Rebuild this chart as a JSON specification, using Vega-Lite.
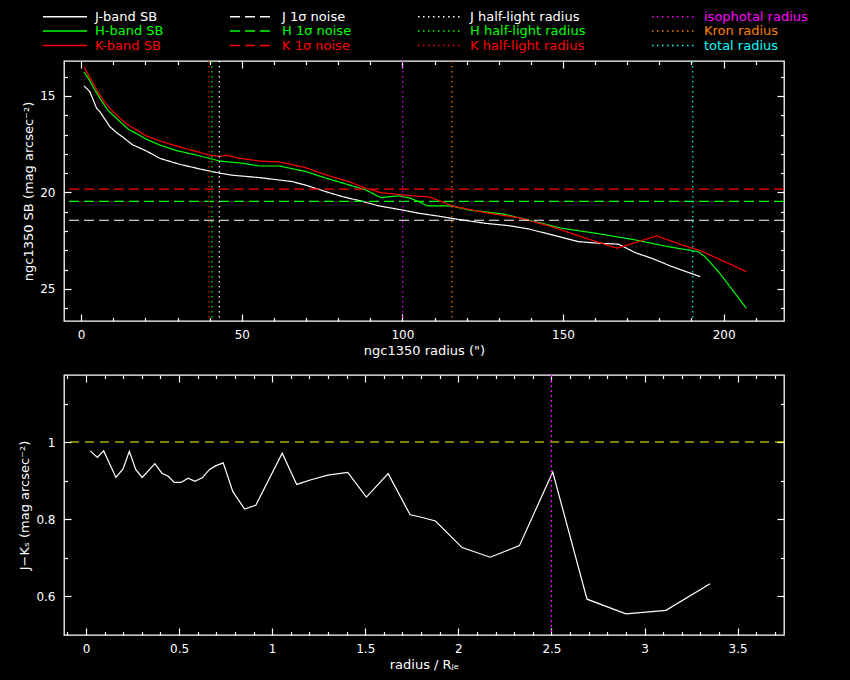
{
  "$schema": "https://vega.github.io/schema/vega-lite/v6.json",
  "background": "black",
  "padding": {"left": 18, "top": 10, "right": 50, "bottom": 8},
  "spacing": 54,
  "bounds": "flush",
  "config": {
    "font": "DejaVu Sans",
    "view": {"stroke": "white", "strokeWidth": 1.3},
    "axis": {
      "domain": false, "grid": false, "ticks": true,
      "labelColor": "white", "titleColor": "white", "tickColor": "white",
      "labelFontSize": 12, "titleFontSize": 13, "titleFontWeight": "normal",
      "labelOverlap": false, "labelFlush": false, "labelBound": false,
      "tickWidth": 1.2, "tickSize": -7
    }
  },
  "vconcat": [
    {
      "width": 720, "height": 260,
      "layer": [
        {
          "data": {"values": [
            {"series": "J-band SB", "r": 0.9, "sb": 14.48}, {"series": "J-band SB", "r": 2.7, "sb": 14.78}, {"series": "J-band SB", "r": 4.8, "sb": 15.64}, {"series": "J-band SB", "r": 5.8, "sb": 15.81}, {"series": "J-band SB", "r": 7.9, "sb": 16.33}, {"series": "J-band SB", "r": 8.9, "sb": 16.59}, {"series": "J-band SB", "r": 11.0, "sb": 16.9}, {"series": "J-band SB", "r": 13.0, "sb": 17.14}, {"series": "J-band SB", "r": 16.1, "sb": 17.54}, {"series": "J-band SB", "r": 20.3, "sb": 17.85}, {"series": "J-band SB", "r": 24.4, "sb": 18.23}, {"series": "J-band SB", "r": 30.6, "sb": 18.54}, {"series": "J-band SB", "r": 36.8, "sb": 18.78}, {"series": "J-band SB", "r": 43.1, "sb": 19.0}, {"series": "J-band SB", "r": 47.2, "sb": 19.11}, {"series": "J-band SB", "r": 55.5, "sb": 19.23}, {"series": "J-band SB", "r": 65.8, "sb": 19.44}, {"series": "J-band SB", "r": 70.0, "sb": 19.63}, {"series": "J-band SB", "r": 76.2, "sb": 19.96}, {"series": "J-band SB", "r": 81.4, "sb": 20.22}, {"series": "J-band SB", "r": 86.5, "sb": 20.42}, {"series": "J-band SB", "r": 92.8, "sb": 20.7}, {"series": "J-band SB", "r": 100.0, "sb": 20.91}, {"series": "J-band SB", "r": 105.2, "sb": 21.08}, {"series": "J-band SB", "r": 111.4, "sb": 21.23}, {"series": "J-band SB", "r": 115.2, "sb": 21.34}, {"series": "J-band SB", "r": 125.9, "sb": 21.6}, {"series": "J-band SB", "r": 133.1, "sb": 21.72}, {"series": "J-band SB", "r": 139.3, "sb": 21.89}, {"series": "J-band SB", "r": 146.6, "sb": 22.2}, {"series": "J-band SB", "r": 154.9, "sb": 22.55}, {"series": "J-band SB", "r": 161.1, "sb": 22.63}, {"series": "J-band SB", "r": 167.3, "sb": 22.68}, {"series": "J-band SB", "r": 172.5, "sb": 23.12}, {"series": "J-band SB", "r": 177.6, "sb": 23.41}, {"series": "J-band SB", "r": 183.9, "sb": 23.84}, {"series": "J-band SB", "r": 192.7, "sb": 24.36},
            {"series": "H-band SB", "r": 0.9, "sb": 13.77}, {"series": "H-band SB", "r": 2.3, "sb": 14.1}, {"series": "H-band SB", "r": 3.7, "sb": 14.52}, {"series": "H-band SB", "r": 5.8, "sb": 15.12}, {"series": "H-band SB", "r": 8.4, "sb": 15.76}, {"series": "H-band SB", "r": 11.5, "sb": 16.24}, {"series": "H-band SB", "r": 14.6, "sb": 16.71}, {"series": "H-band SB", "r": 20.3, "sb": 17.24}, {"series": "H-band SB", "r": 24.4, "sb": 17.54}, {"series": "H-band SB", "r": 29.6, "sb": 17.83}, {"series": "H-band SB", "r": 35.8, "sb": 18.06}, {"series": "H-band SB", "r": 40.5, "sb": 18.26}, {"series": "H-band SB", "r": 43.1, "sb": 18.37}, {"series": "H-band SB", "r": 50.3, "sb": 18.49}, {"series": "H-band SB", "r": 55.5, "sb": 18.63}, {"series": "H-band SB", "r": 61.7, "sb": 18.63}, {"series": "H-band SB", "r": 70.0, "sb": 18.92}, {"series": "H-band SB", "r": 76.2, "sb": 19.26}, {"series": "H-band SB", "r": 83.4, "sb": 19.61}, {"series": "H-band SB", "r": 88.6, "sb": 19.87}, {"series": "H-band SB", "r": 93.3, "sb": 20.27}, {"series": "H-band SB", "r": 95.9, "sb": 20.22}, {"series": "H-band SB", "r": 99.0, "sb": 20.18}, {"series": "H-band SB", "r": 102.1, "sb": 20.28}, {"series": "H-band SB", "r": 105.2, "sb": 20.48}, {"series": "H-band SB", "r": 107.8, "sb": 20.7}, {"series": "H-band SB", "r": 115.5, "sb": 20.7}, {"series": "H-band SB", "r": 120.7, "sb": 20.91}, {"series": "H-band SB", "r": 131.1, "sb": 21.11}, {"series": "H-band SB", "r": 138.3, "sb": 21.39}, {"series": "H-band SB", "r": 149.7, "sb": 21.86}, {"series": "H-band SB", "r": 160.1, "sb": 22.11}, {"series": "H-band SB", "r": 172.5, "sb": 22.46}, {"series": "H-band SB", "r": 182.8, "sb": 22.81}, {"series": "H-band SB", "r": 192.1, "sb": 23.07}, {"series": "H-band SB", "r": 194.2, "sb": 23.33}, {"series": "H-band SB", "r": 198.4, "sb": 24.1}, {"series": "H-band SB", "r": 207.1, "sb": 26.0},
            {"series": "K-band SB", "r": 0.9, "sb": 13.5}, {"series": "K-band SB", "r": 3.7, "sb": 14.34}, {"series": "K-band SB", "r": 5.3, "sb": 14.81}, {"series": "K-band SB", "r": 6.8, "sb": 15.21}, {"series": "K-band SB", "r": 8.9, "sb": 15.64}, {"series": "K-band SB", "r": 11.5, "sb": 16.07}, {"series": "K-band SB", "r": 14.1, "sb": 16.45}, {"series": "K-band SB", "r": 20.3, "sb": 17.07}, {"series": "K-band SB", "r": 24.4, "sb": 17.33}, {"series": "K-band SB", "r": 29.6, "sb": 17.59}, {"series": "K-band SB", "r": 34.8, "sb": 17.83}, {"series": "K-band SB", "r": 39.4, "sb": 18.04}, {"series": "K-band SB", "r": 43.1, "sb": 18.14}, {"series": "K-band SB", "r": 45.2, "sb": 18.07}, {"series": "K-band SB", "r": 49.3, "sb": 18.23}, {"series": "K-band SB", "r": 55.5, "sb": 18.37}, {"series": "K-band SB", "r": 61.7, "sb": 18.42}, {"series": "K-band SB", "r": 70.0, "sb": 18.72}, {"series": "K-band SB", "r": 76.2, "sb": 19.09}, {"series": "K-band SB", "r": 83.4, "sb": 19.44}, {"series": "K-band SB", "r": 88.6, "sb": 19.78}, {"series": "K-band SB", "r": 93.3, "sb": 20.01}, {"series": "K-band SB", "r": 102.1, "sb": 20.16}, {"series": "K-band SB", "r": 108.3, "sb": 20.23}, {"series": "K-band SB", "r": 111.4, "sb": 20.42}, {"series": "K-band SB", "r": 115.5, "sb": 20.7}, {"series": "K-band SB", "r": 125.9, "sb": 21.05}, {"series": "K-band SB", "r": 136.2, "sb": 21.31}, {"series": "K-band SB", "r": 146.6, "sb": 21.78}, {"series": "K-band SB", "r": 157.0, "sb": 22.37}, {"series": "K-band SB", "r": 166.8, "sb": 22.89}, {"series": "K-band SB", "r": 179.2, "sb": 22.25}, {"series": "K-band SB", "r": 187.0, "sb": 22.72}, {"series": "K-band SB", "r": 192.7, "sb": 23.01}, {"series": "K-band SB", "r": 207.1, "sb": 24.1}
          ]},
          "mark": {"type": "line", "strokeWidth": 1.2},
          "encoding": {
            "x": {"field": "r", "type": "quantitative",
              "scale": {"domain": [-5.35, 218.8], "nice": false, "zero": false},
              "axis": {"orient": "bottom", "title": "ngc1350 radius (\")",
                "values": [0,10,20,30,40,50,60,70,80,90,100,110,120,130,140,150,160,170,180,190,200,210],
                "format": "d", "labelExpr": "datum.value % 50 === 0 ? datum.label : ''",
                "tickDash": {"condition": {"test": "datum.value % 50 === 0", "value": [8, 0]}, "value": [3.5, 20]},
                "labelPadding": 15, "titlePadding": 4}},
            "y": {"field": "sb", "type": "quantitative",
              "scale": {"domain": [13.19, 26.66], "reverse": true, "nice": false, "zero": false},
              "axis": {"orient": "left", "title": "ngc1350 SB (mag arcsec⁻²)",
                "values": [14,15,16,17,18,19,20,21,22,23,24,25,26],
                "format": "d", "labelExpr": "datum.value % 5 === 0 ? datum.label : ''",
                "tickDash": {"condition": {"test": "datum.value % 5 === 0", "value": [8, 0]}, "value": [3.5, 20]},
                "labelPadding": 16, "titlePadding": 4}},
            "color": {"field": "series", "type": "nominal",
              "scale": {"domain": ["J-band SB","H-band SB","K-band SB","J 1σ noise","H 1σ noise","K 1σ noise","J half-light radius","H half-light radius","K half-light radius","isophotal radius","Kron radius","total radius"],
                "range": ["#ffffff","#00ff00","#ff0000","#ffffff","#00ff00","#ff0000","#ffffff","#00ff00","#ff0000","#ff00ff","#ff8000","#00ffff"]},
              "legend": {"orient": "none", "legendX": -22, "legendY": -51, "columns": 4, "title": null,
                "symbolType": "stroke", "symbolSize": 1936, "symbolStrokeWidth": 1.5,
                "labelFontSize": 13, "labelColor": "white", "labelOffset": 7,
                "columnPadding": 65, "rowPadding": 0.5, "clipHeight": 13, "gridAlign": "each", "padding": 0,
                "encode": {"labels": {"update": {"fill": {"scale": "color", "field": "value"}}}}}},
            "strokeDash": {"field": "series", "type": "nominal",
              "scale": {"domain": ["J-band SB","H-band SB","K-band SB","J 1σ noise","H 1σ noise","K 1σ noise","J half-light radius","H half-light radius","K half-light radius","isophotal radius","Kron radius","total radius"],
                "range": [[1,0],[1,0],[1,0],[10,5],[10,5],[10,5],[1.5,3.5],[1.5,3.5],[1.5,3.5],[1.5,3.5],[1.5,3.5],[1.5,3.5]]},
              "legend": {"orient": "none", "legendX": -22, "legendY": -51, "columns": 4, "title": null,
                "symbolType": "stroke", "symbolSize": 1936, "symbolStrokeWidth": 1.5,
                "labelFontSize": 13, "labelColor": "white", "labelOffset": 7,
                "columnPadding": 65, "rowPadding": 0.5, "clipHeight": 13, "gridAlign": "each", "padding": 0,
                "encode": {"labels": {"update": {"fill": {"scale": "color", "field": "value"}}}}}}
          }
        },
        {
          "data": {"values": [
            {"series": "J 1σ noise", "sb": 21.44}, {"series": "H 1σ noise", "sb": 20.46}, {"series": "K 1σ noise", "sb": 19.83}
          ]},
          "mark": {"type": "rule", "strokeWidth": 1.2},
          "encoding": {
            "y": {"field": "sb", "type": "quantitative",
              "scale": {"domain": [13.19, 26.66], "reverse": true, "nice": false, "zero": false},
              "axis": {"orient": "right", "title": null, "labels": false,
                "values": [14,15,16,17,18,19,20,21,22,23,24,25,26],
                "tickDash": {"condition": {"test": "datum.value % 5 === 0", "value": [8, 0]}, "value": [3.5, 20]}}},
            "color": {"field": "series", "type": "nominal",
              "scale": {"domain": ["J-band SB","H-band SB","K-band SB","J 1σ noise","H 1σ noise","K 1σ noise","J half-light radius","H half-light radius","K half-light radius","isophotal radius","Kron radius","total radius"],
                "range": ["#ffffff","#00ff00","#ff0000","#ffffff","#00ff00","#ff0000","#ffffff","#00ff00","#ff0000","#ff00ff","#ff8000","#00ffff"]}},
            "strokeDash": {"field": "series", "type": "nominal",
              "scale": {"domain": ["J-band SB","H-band SB","K-band SB","J 1σ noise","H 1σ noise","K 1σ noise","J half-light radius","H half-light radius","K half-light radius","isophotal radius","Kron radius","total radius"],
                "range": [[1,0],[1,0],[1,0],[10,5],[10,5],[10,5],[1.5,3.5],[1.5,3.5],[1.5,3.5],[1.5,3.5],[1.5,3.5],[1.5,3.5]]}}
          }
        },
        {
          "data": {"values": [
            {"series": "J half-light radius", "r": 43.0}, {"series": "H half-light radius", "r": 40.7}, {"series": "K half-light radius", "r": 39.8},
            {"series": "isophotal radius", "r": 100.1}, {"series": "Kron radius", "r": 115.4}, {"series": "total radius", "r": 190.4}
          ]},
          "mark": {"type": "rule", "strokeWidth": 1.2},
          "encoding": {
            "x": {"field": "r", "type": "quantitative",
              "scale": {"domain": [-5.35, 218.8], "nice": false, "zero": false},
              "axis": {"orient": "top", "title": null, "labels": false,
                "values": [0,10,20,30,40,50,60,70,80,90,100,110,120,130,140,150,160,170,180,190,200,210],
                "tickDash": {"condition": {"test": "datum.value % 50 === 0", "value": [8, 0]}, "value": [3.5, 20]}}},
            "color": {"field": "series", "type": "nominal",
              "scale": {"domain": ["J-band SB","H-band SB","K-band SB","J 1σ noise","H 1σ noise","K 1σ noise","J half-light radius","H half-light radius","K half-light radius","isophotal radius","Kron radius","total radius"],
                "range": ["#ffffff","#00ff00","#ff0000","#ffffff","#00ff00","#ff0000","#ffffff","#00ff00","#ff0000","#ff00ff","#ff8000","#00ffff"]}},
            "strokeDash": {"field": "series", "type": "nominal",
              "scale": {"domain": ["J-band SB","H-band SB","K-band SB","J 1σ noise","H 1σ noise","K 1σ noise","J half-light radius","H half-light radius","K half-light radius","isophotal radius","Kron radius","total radius"],
                "range": [[1,0],[1,0],[1,0],[10,5],[10,5],[10,5],[1.5,3.5],[1.5,3.5],[1.5,3.5],[1.5,3.5],[1.5,3.5],[1.5,3.5]]}}
          }
        }
      ],
      "resolve": {"axis": {"x": "independent", "y": "independent"}}
    },
    {
      "width": 720, "height": 260,
      "layer": [
        {
          "data": {"values": [
            {"rr": 0.023, "jk": 0.977}, {"rr": 0.061, "jk": 0.96}, {"rr": 0.095, "jk": 0.977}, {"rr": 0.161, "jk": 0.908}, {"rr": 0.199, "jk": 0.93}, {"rr": 0.233, "jk": 0.976}, {"rr": 0.267, "jk": 0.929}, {"rr": 0.302, "jk": 0.908}, {"rr": 0.37, "jk": 0.944}, {"rr": 0.408, "jk": 0.919}, {"rr": 0.442, "jk": 0.911}, {"rr": 0.474, "jk": 0.895}, {"rr": 0.51, "jk": 0.895}, {"rr": 0.549, "jk": 0.906}, {"rr": 0.585, "jk": 0.898}, {"rr": 0.624, "jk": 0.907}, {"rr": 0.664, "jk": 0.929}, {"rr": 0.696, "jk": 0.938}, {"rr": 0.737, "jk": 0.946}, {"rr": 0.789, "jk": 0.871}, {"rr": 0.852, "jk": 0.826}, {"rr": 0.912, "jk": 0.836}, {"rr": 1.054, "jk": 0.971}, {"rr": 1.132, "jk": 0.89}, {"rr": 1.209, "jk": 0.902}, {"rr": 1.299, "jk": 0.914}, {"rr": 1.406, "jk": 0.921}, {"rr": 1.506, "jk": 0.857}, {"rr": 1.623, "jk": 0.918}, {"rr": 1.741, "jk": 0.811}, {"rr": 1.791, "jk": 0.806}, {"rr": 1.877, "jk": 0.795}, {"rr": 2.02, "jk": 0.726}, {"rr": 2.171, "jk": 0.701}, {"rr": 2.328, "jk": 0.731}, {"rr": 2.507, "jk": 0.922}, {"rr": 2.691, "jk": 0.592}, {"rr": 2.9, "jk": 0.554}, {"rr": 3.115, "jk": 0.563}, {"rr": 3.352, "jk": 0.632}
          ]},
          "mark": {"type": "line", "color": "white", "strokeWidth": 1.2},
          "encoding": {
            "x": {"field": "rr", "type": "quantitative",
              "scale": {"domain": [-0.118, 3.749], "nice": false, "zero": false},
              "axis": {"orient": "bottom", "title": "radius / Rⱼₑ",
                "values": [-0.1,0,0.1,0.2,0.3,0.4,0.5,0.6,0.7,0.8,0.9,1,1.1,1.2,1.3,1.4,1.5,1.6,1.7,1.8,1.9,2,2.1,2.2,2.3,2.4,2.5,2.6,2.7,2.8,2.9,3,3.1,3.2,3.3,3.4,3.5,3.6,3.7],
                "format": "~g", "labelExpr": "abs(datum.value*2 - round(datum.value*2)) < 0.001 ? datum.label : ''",
                "tickDash": {"condition": {"test": "abs(datum.value*2 - round(datum.value*2)) < 0.001", "value": [8, 0]}, "value": [3.5, 20]},
                "labelPadding": 15, "titlePadding": 4}},
            "y": {"field": "jk", "type": "quantitative",
              "scale": {"domain": [0.499, 1.174], "nice": false, "zero": false},
              "axis": {"orient": "left", "title": "J−Kₛ (mag arcsec⁻²)",
                "values": [0.6,0.7,0.8,0.9,1,1.1],
                "format": "~g", "labelExpr": "abs(datum.value*5 - round(datum.value*5)) < 0.001 ? datum.label : ''",
                "tickDash": {"condition": {"test": "abs(datum.value*5 - round(datum.value*5)) < 0.001", "value": [8, 0]}, "value": [3.5, 20]},
                "labelPadding": 16, "titlePadding": 4}}
          }
        },
        {
          "data": {"values": [{"jk": 1}]},
          "mark": {"type": "rule", "color": "#ffff00", "strokeWidth": 1.2, "strokeDash": [9, 6]},
          "encoding": {
            "y": {"field": "jk", "type": "quantitative",
              "scale": {"domain": [0.499, 1.174], "nice": false, "zero": false},
              "axis": {"orient": "right", "title": null, "labels": false,
                "values": [0.6,0.7,0.8,0.9,1,1.1],
                "tickDash": {"condition": {"test": "abs(datum.value*5 - round(datum.value*5)) < 0.001", "value": [8, 0]}, "value": [3.5, 20]}}}
          }
        },
        {
          "data": {"values": [{"rr": 2.5}]},
          "mark": {"type": "rule", "color": "#ff00ff", "strokeWidth": 1.2, "strokeDash": [2, 3]},
          "encoding": {
            "x": {"field": "rr", "type": "quantitative",
              "scale": {"domain": [-0.118, 3.749], "nice": false, "zero": false},
              "axis": {"orient": "top", "title": null, "labels": false,
                "values": [-0.1,0,0.1,0.2,0.3,0.4,0.5,0.6,0.7,0.8,0.9,1,1.1,1.2,1.3,1.4,1.5,1.6,1.7,1.8,1.9,2,2.1,2.2,2.3,2.4,2.5,2.6,2.7,2.8,2.9,3,3.1,3.2,3.3,3.4,3.5,3.6,3.7],
                "tickDash": {"condition": {"test": "abs(datum.value*2 - round(datum.value*2)) < 0.001", "value": [8, 0]}, "value": [3.5, 20]}}}
          }
        }
      ],
      "resolve": {"axis": {"x": "independent", "y": "independent"}}
    }
  ]
}
